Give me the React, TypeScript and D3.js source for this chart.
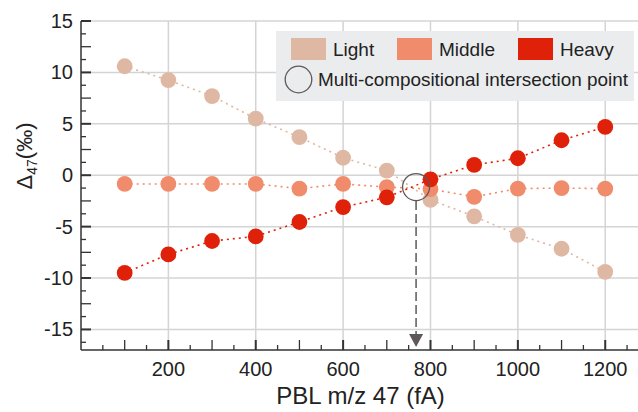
import React from 'react';
import * as d3 from 'd3';

// PBL m/z 47 intensity (fA)
const pbl = [100, 200, 300, 400, 500, 600, 700, 800, 900, 1000, 1100, 1200];

// Δ47 offsets (‰) per composition
const light = [10.6, 9.25, 7.7, 5.5, 3.7, 1.7, 0.45, -2.4, -4.0, -5.8, -7.15, -9.4];
const middle = [-0.85, -0.85, -0.85, -0.85, -1.3, -0.85, -1.15, -1.35, -2.1, -1.3, -1.25, -1.3];
const heavy = [-9.5, -7.7, -6.4, -5.95, -4.55, -3.1, -2.15, -0.4, 1.0, 1.65, 3.4, 4.7];

const seriesNames = ['Light', 'Middle', 'Heavy'];
const seriesColors = ['#dfb8a3', '#f08c6b', '#e0210a'];

const xTickLabels = [200, 400, 600, 800, 1000, 1200];
const yTickLabels = [-15, -10, -5, 0, 5, 10, 15];

// intersection point of the three series
const crossX = 767;
const crossY = -1.15;

const W = 638;
const H = 412;
const FONT = 'Liberation Sans, Arial, Helvetica, sans-serif';

export default function App() {
  const x = d3.scaleLinear().domain([0, 1275]).range([81, 638]);
  const y = d3.scaleLinear().domain([-17, 15]).range([350, 21]);

  const series = [light, middle, heavy];

  const line = d3
    .line<number>()
    .x((_, i) => x(pbl[i]))
    .y((d) => y(d));

  const xMinor = d3.range(50, 1275, 50);
  const yMinor = d3.range(-16.25, 15.01, 1.25);

  const cx = x(crossX);
  const cy = y(crossY);
  const tipY = y(-16.7);

  return (
    <div style={{ position: 'absolute', left: 0, top: 0 }}>
      <svg width={W} height={H} style={{ display: 'block', fontFamily: FONT }}>
        <rect width={W} height={H} fill="#ffffff" />

        {/* grid */}
        {yTickLabels.map((v) => (
          <line key={'gy' + v} x1={x(0)} x2={W} y1={y(v)} y2={y(v)} stroke="#d4d4d4" strokeWidth={1.5} />
        ))}
        {xTickLabels.map((v) => (
          <line key={'gx' + v} x1={x(v)} x2={x(v)} y1={y(15)} y2={y(-17)} stroke="#d4d4d4" strokeWidth={1.5} />
        ))}

        {/* dotted connectors */}
        {series.map((s, k) => (
          <path
            key={'l' + k}
            d={line(s) || ''}
            fill="none"
            stroke={seriesColors[k]}
            strokeWidth={1.6}
            strokeDasharray="2,4"
          />
        ))}

        {/* points */}
        {series.map((s, k) =>
          s.map((v, i) => (
            <circle key={'p' + k + '-' + i} cx={x(pbl[i])} cy={y(v)} r={7.9} fill={seriesColors[k]} />
          ))
        )}

        {/* intersection marker + arrow */}
        <circle cx={cx} cy={cy} r={13.5} fill="none" stroke="#5e5858" strokeWidth={1.3} />
        <line x1={cx} x2={cx} y1={cy + 14} y2={tipY - 8} stroke="#5e5858" strokeWidth={1.5} strokeDasharray="9,4" />
        <path d={`M${cx - 7},${tipY - 13} L${cx + 7},${tipY - 13} L${cx},${tipY} Z`} fill="#5e5858" />

        {/* axes */}
        <line x1={x(0)} x2={x(0)} y1={y(15)} y2={y(-17)} stroke="#333" strokeWidth={1.5} />
        <line x1={x(0)} x2={W} y1={y(-17)} y2={y(-17)} stroke="#333" strokeWidth={1.5} />

        {yMinor.map((v) => {
          const major = Math.abs(v % 5) < 0.01;
          const mid = Math.abs(v % 2.5) < 0.01;
          return (
            <line
              key={'ty' + v}
              x1={x(0)}
              x2={x(0) + (major || mid ? 10 : 5)}
              y1={y(v)}
              y2={y(v)}
              stroke="#333"
              strokeWidth={major ? 2 : 1.3}
            />
          );
        })}
        {xMinor.map((v) => (
          <line
            key={'tx' + v}
            x1={x(v)}
            x2={x(v)}
            y1={y(-17)}
            y2={y(-17) - (v % 100 === 0 ? 10 : 5)}
            stroke="#333"
            strokeWidth={v % 200 === 0 ? 2 : 1.3}
          />
        ))}

        {yTickLabels.map((v) => (
          <text key={'ly' + v} x={73} y={y(v) + 7} textAnchor="end" fontSize={20} fill="#222">
            {v}
          </text>
        ))}
        {xTickLabels.map((v) => (
          <text key={'lx' + v} x={x(v)} y={376} textAnchor="middle" fontSize={20} fill="#222">
            {v}
          </text>
        ))}

        {/* axis titles */}
        <text x={x(640)} y={404} textAnchor="middle" fontSize={24} fill="#222">
          PBL m/z 47 (fA)
        </text>
        <text transform="translate(32,156) rotate(-90)" textAnchor="middle" fontSize={22} fill="#222">
          Δ<tspan fontSize={14} dy={5}>47</tspan>
          <tspan dy={-5}>(‰)</tspan>
        </text>

        {/* legend */}
        <rect x={276} y={31} width={358} height={70} fill="#ebecee" />
        {seriesNames.map((name, k) => {
          const lx = [291, 397, 518][k];
          return (
            <g key={'lg' + name}>
              <rect x={lx} y={38} width={35} height={22} fill={seriesColors[k]} />
              <text x={lx + 42} y={56} fontSize={19} fill="#222">
                {name}
              </text>
            </g>
          );
        })}
        <circle cx={298.5} cy={79.5} r={13.3} fill="none" stroke="#5e5858" strokeWidth={1.3} />
        <text x={318} y={86} fontSize={19} fill="#222" textLength={310} lengthAdjust="spacingAndGlyphs">
          Multi-compositional intersection point
        </text>
      </svg>
    </div>
  );
}
